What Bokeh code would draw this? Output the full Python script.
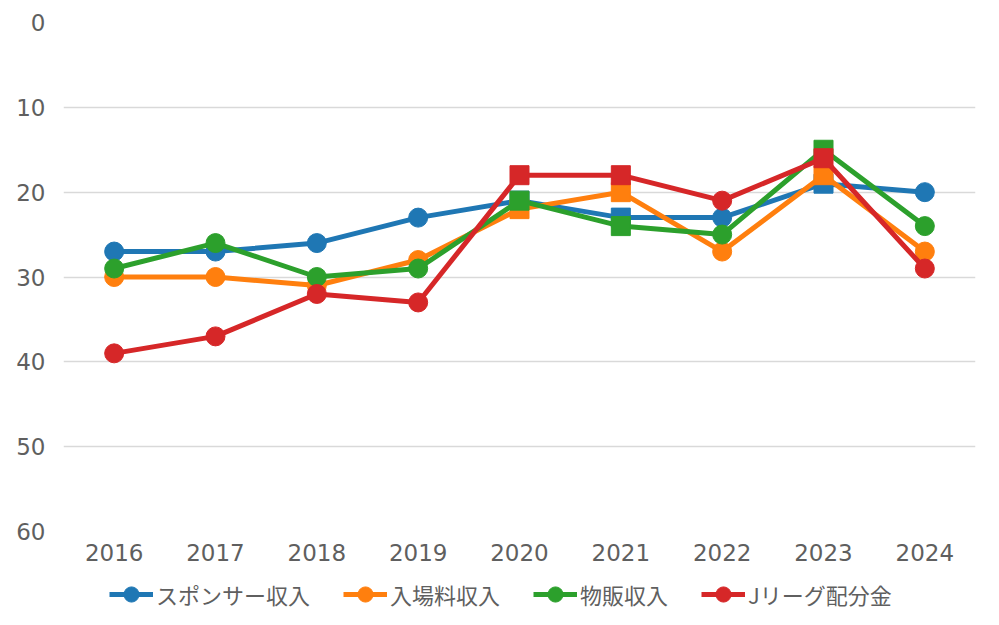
from bokeh.plotting import figure
from bokeh.layouts import column
from bokeh.models import ColumnDataSource, Range1d, FixedTicker, Legend, LegendItem
from bokeh.embed import file_html
from bokeh.resources import INLINE

# Fiscal years on the category axis
years = ["2016", "2017", "2018", "2019", "2020", "2021", "2022", "2023", "2024"]

# Ranking of each revenue source per year (1 = best, plotted top-down)
sponsor = [27, 27, 26, 23, 21, 23, 23, 19, 20]
gate = [30, 30, 31, 28, 22, 20, 27, 18, 27]
goods = [29, 26, 30, 29, 21, 24, 25, 15, 24]
jleague = [39, 37, 32, 33, 18, 18, 21, 16, 29]

series_names = ["スポンサー収入", "入場料収入", "物販収入", "Jリーグ配分金"]
series_values = [sponsor, gate, goods, jleague]
colors = ["#1f77b4", "#ff7f0e", "#2ca02c", "#d62728"]

# Square markers flag the J1 seasons, circles the rest
markers = ["circle", "circle", "circle", "circle", "square", "square", "circle", "square", "circle"]

y_ticks = [0, 10, 20, 30, 40, 50, 60]

TEXT = "#5f5f5f"
FONT = "DejaVu Sans"

p = figure(
    width=999, height=578,
    x_range=years, y_range=Range1d(60, 0),
    output_backend="svg", toolbar_location=None,
    min_border_left=63, min_border_right=24, min_border_top=22, min_border_bottom=47,
)
p.outline_line_color = None
p.x_range.range_padding = 0

p.xgrid.grid_line_color = None
p.ygrid.grid_line_color = "#d9d9d9"
p.ygrid.grid_line_width = 1.5

p.yaxis.ticker = FixedTicker(ticks=y_ticks)
for ax in (p.xaxis[0], p.yaxis[0]):
    ax.axis_line_color = None
    ax.major_tick_line_color = None
    ax.minor_tick_line_color = None
    ax.major_tick_out = 0
    ax.major_tick_in = 0
    ax.minor_tick_out = 0
    ax.major_label_text_color = TEXT
    ax.major_label_text_font = FONT
    ax.major_label_text_font_size = "23px"
p.yaxis.major_label_standoff = 18
p.xaxis.major_label_standoff = 12

for vals, col in zip(series_values, colors):
    src = ColumnDataSource(dict(x=years, y=vals, marker=markers))
    p.line("x", "y", source=src, line_color=col, line_width=5)
    p.scatter("x", "y", source=src, marker="marker", size=19,
              fill_color=col, line_color=col)

# Legend strip under the chart; its swatch renderers sit outside the visible range
lg = figure(
    width=999, height=47, x_range=Range1d(0, 1), y_range=Range1d(0, 1),
    output_backend="svg", toolbar_location=None,
    min_border=0, min_border_left=0, min_border_right=0, min_border_top=0, min_border_bottom=0,
)
lg.axis.visible = False
lg.grid.visible = False
lg.outline_line_color = None

items = []
for name, col in zip(series_names, colors):
    swatch = ColumnDataSource(dict(x=[-5, -4], y=[-5, -5]))
    ln = lg.line("x", "y", source=swatch, line_color=col, line_width=5)
    sc = lg.scatter("x", "y", source=swatch, marker="circle", size=16,
                    fill_color=col, line_color=col)
    items.append(LegendItem(label=name, renderers=[ln, sc]))

legend = Legend(
    items=items, orientation="horizontal", location=(46, 12),
    label_text_font="Noto Sans CJK JP", label_text_font_size="22px",
    label_text_color=TEXT, glyph_width=44, glyph_height=38,
    spacing=33, label_standoff=3, padding=0, margin=0,
    border_line_color=None, background_fill_alpha=0,
)
lg.add_layout(legend)

layout = column(p, lg, spacing=0)
open("out.html", "w").write(file_html(layout, INLINE))
